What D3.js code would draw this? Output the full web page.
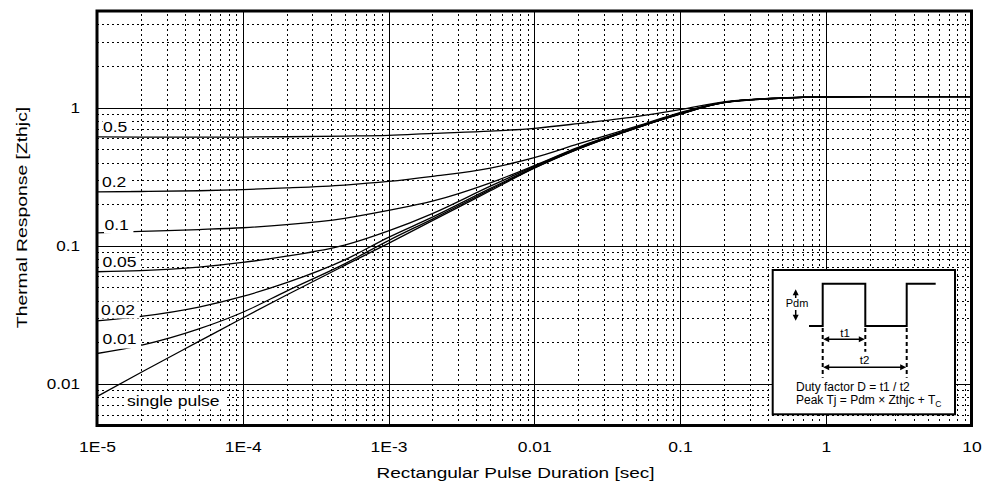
<!DOCTYPE html>
<html><head><meta charset="utf-8">
<script src="https://cdn.jsdelivr.net/npm/d3@7"></script>
<style>
body{margin:0;background:#fff;}
svg text{font-family:"Liberation Sans",Arial,Helvetica,sans-serif;fill:#000;}
</style></head><body>
<svg id="c" width="982" height="485"></svg>
<script>
// ---- data ----
const pulseDurations = [1e-5,2e-5,5e-5,1e-4,2e-4,5e-4,1e-3,2e-3,5e-3,1e-2,2e-2,5e-2,0.1,0.2,0.5,1,2,5,10];
const zSingle = [0.0081,0.0121,0.0203,0.030,0.044,0.072,0.104,0.152,0.250,0.364,0.500,0.710,0.895,1.085,1.170,1.195,1.200,1.200,1.200];
const zD001   = [0.0166,0.0190,0.0250,0.0330,0.047,0.074,0.109,0.156,0.255,0.366,0.502,0.711,0.897,1.086,1.170,1.195,1.200,1.200,1.200];
const zD002   = [0.0286,0.0308,0.0360,0.043,0.054,0.079,0.115,0.161,0.260,0.369,0.505,0.713,0.900,1.087,1.171,1.195,1.200,1.200,1.200];
const zD005   = [0.0648,0.066,0.070,0.0757,0.084,0.101,0.128,0.171,0.270,0.375,0.510,0.716,0.905,1.088,1.171,1.196,1.200,1.200,1.200];
const zD010   = [0.124,0.127,0.131,0.135,0.142,0.158,0.180,0.210,0.285,0.380,0.515,0.720,0.910,1.090,1.172,1.196,1.200,1.200,1.200];
const zD020   = [0.245,0.247,0.250,0.255,0.262,0.275,0.292,0.318,0.365,0.434,0.545,0.730,0.920,1.092,1.173,1.197,1.200,1.200,1.200];
const zD050   = [0.613,0.612,0.611,0.612,0.615,0.622,0.630,0.650,0.675,0.708,0.765,0.860,0.965,1.100,1.175,1.198,1.200,1.200,1.200];
const seriesNames = ["single pulse","0.01","0.02","0.05","0.1","0.2","0.5"];
const seriesValues = [zSingle,zD001,zD002,zD005,zD010,zD020,zD050];
const xTickValues = [1e-5,1e-4,1e-3,1e-2,0.1,1,10];
const xTickLabels = ["1E-5","1E-4","1E-3","0.01","0.1","1","10"];
const yTickValues = [0.01,0.1,1];
const yTickLabels = ["0.01","0.1","1"];
const xTitle = "Rectangular Pulse Duration [sec]";
const yTitle = "Thermal Response [Zthjc]";

// ---- layout ----
const L=97, R=971.5, T=11, B=425.5;
const svg = d3.select("#c");
const x = d3.scaleLog().domain([1e-5,10]).range([L,R]);
const y = d3.scaleLog().domain([0.005,5]).range([B,T]);

function minorTicks(lo,hi){
  const out=[];
  for(let e=Math.floor(Math.log10(lo)); e<=Math.ceil(Math.log10(hi)); e++){
    for(let k=2;k<=9;k++){const v=k*Math.pow(10,e); if(v>=lo*0.999 && v<hi*0.999) out.push(v);}
  }
  return out;
}
const xMinor = minorTicks(1e-5,10);
const yMinor = minorTicks(0.005,5).filter(v=>v>0.0051);
const xMajorInner = xTickValues.slice(1,-1);

// grid
const grid = svg.append("g").attr("shape-rendering","crispEdges");
grid.append("g").attr("transform",`translate(0,${B})`)
  .call(d3.axisBottom(x).tickValues(xMinor).tickSize(-(B-T)).tickFormat(""))
  .call(g=>g.select(".domain").remove())
  .selectAll("line").attr("stroke","#000").attr("stroke-width",1).attr("stroke-dasharray","2,3");
grid.append("g").attr("transform",`translate(${L},0)`)
  .call(d3.axisLeft(y).tickValues(yMinor).tickSize(-(R-L)).tickFormat(""))
  .call(g=>g.select(".domain").remove())
  .selectAll("line").attr("stroke","#000").attr("stroke-width",1).attr("stroke-dasharray","2,3");
grid.append("g").attr("transform",`translate(0,${B})`)
  .call(d3.axisBottom(x).tickValues(xMajorInner).tickSize(-(B-T)).tickFormat(""))
  .call(g=>g.select(".domain").remove())
  .selectAll("line").attr("stroke","#000").attr("stroke-width",1);
grid.append("g").attr("transform",`translate(${L},0)`)
  .call(d3.axisLeft(y).tickValues(yTickValues).tickSize(-(R-L)).tickFormat(""))
  .call(g=>g.select(".domain").remove())
  .selectAll("line").attr("stroke","#000").attr("stroke-width",1);

// curves
svg.append("clipPath").attr("id","pc").append("rect").attr("x",L).attr("y",T).attr("width",R-L).attr("height",B-T);
const line = d3.line().x(d=>x(d[0])).y(d=>y(d[1])).curve(d3.curveMonotoneX);
svg.append("g").attr("clip-path","url(#pc)")
  .selectAll("path").data(seriesValues).join("path")
  .attr("d",vals=>line(pulseDurations.map((t,i)=>[t,vals[i]])))
  .attr("fill","none").attr("stroke","#000").attr("stroke-width",1.3);

// curve labels with white background
const labelSpots = [[127,406],[102.5,344],[101,315],[102.5,266.5],[104.5,230],[102,187],[103,132]];
const kLab = 1.21;
seriesNames.forEach((name,i)=>{
  const g = svg.append("g").attr("transform",`translate(${labelSpots[i][0]},${labelSpots[i][1]}) scale(${kLab},1)`);
  const r = g.append("rect").attr("fill","#fff");
  const t = g.append("text").attr("font-size",14.5).text(name);
  const bb = t.node().getBBox();
  r.attr("x",bb.x-0.5/kLab).attr("y",bb.y).attr("width",bb.width+5/kLab).attr("height",(i===1?4.5:3.5)-bb.y);
});

// border
svg.append("rect").attr("x",L).attr("y",T).attr("width",R-L).attr("height",B-T)
  .attr("fill","none").attr("stroke","#000").attr("stroke-width",3);

// x tick labels
const xa = svg.append("g").attr("transform",`translate(0,${B})`)
  .call(d3.axisBottom(x).tickValues(xTickValues).tickSize(0).tickFormat((d,i)=>xTickLabels[i]));
xa.select(".domain").remove();
xa.selectAll("text").attr("font-size",14).attr("font-family",null).attr("y",0).attr("dy",0)
  .attr("transform","translate(0,26.2) scale(1.25,1)");
// y tick labels
const ya = svg.append("g").attr("transform",`translate(${L},0)`)
  .call(d3.axisLeft(y).tickValues(yTickValues).tickSize(0).tickFormat((d,i)=>yTickLabels[i]));
ya.select(".domain").remove();
ya.selectAll("text").attr("font-size",14).attr("font-family",null).attr("x",0).attr("dy","0.35em")
  .attr("text-anchor","end").attr("transform","translate(-17,0) scale(1.22,1)");

// axis titles
svg.append("text").attr("transform",`translate(515.5,478) scale(1.27,1)`)
  .attr("text-anchor","middle").attr("font-size",15).text(xTitle);
svg.append("text").attr("transform",`translate(27.3,217.5) rotate(-90) scale(1.29,1)`)
  .attr("text-anchor","middle").attr("font-size",15).text(yTitle);

// inset schematic
const bx=772.7, by=270;
const inset = svg.append("g").attr("transform",`translate(${bx},${by})`);
inset.append("rect").attr("x",0).attr("y",0).attr("width",182.3).attr("height",144.3)
  .attr("fill","#fff").attr("stroke","#000").attr("stroke-width",2);
inset.append("path").attr("d",d3.line()([[36.3,56],[50,56],[50,13.7],[92.6,13.7],[92.6,56],[134,56],[134,13.7],[163,13.7]]))
  .attr("fill","none").attr("stroke","#000").attr("stroke-width",2);
// dashed verticals
[[50,58,107.7],[92.6,58,81.7],[134,58,107.7]].forEach(d=>{
  inset.append("line").attr("x1",d[0]).attr("x2",d[0]).attr("y1",d[1]).attr("y2",d[2])
    .attr("stroke","#000").attr("stroke-width",2).attr("stroke-dasharray","4,3");
});
function arrowHead(g,xt,yt,dir){
  const s=6,w=3;
  let pts;
  if(dir==="up") pts=[[xt,yt],[xt-w,yt+s],[xt+w,yt+s]];
  if(dir==="down") pts=[[xt,yt],[xt-w,yt-s],[xt+w,yt-s]];
  if(dir==="left") pts=[[xt,yt],[xt+s,yt-w],[xt+s,yt+w]];
  if(dir==="right") pts=[[xt,yt],[xt-s,yt-w],[xt-s,yt+w]];
  g.append("path").attr("d","M"+pts.map(p=>p.join(",")).join("L")+"Z").attr("fill","#000");
}
// Pdm arrows
inset.append("line").attr("x1",23).attr("x2",23).attr("y1",28).attr("y2",22).attr("stroke","#000").attr("stroke-width",1.5);
arrowHead(inset,23,19.3,"up");
inset.append("line").attr("x1",23).attr("x2",23).attr("y1",40).attr("y2",46).attr("stroke","#000").attr("stroke-width",1.5);
arrowHead(inset,23,50.7,"down");
inset.append("text").attr("x",13).attr("y",37.3).attr("font-size",11).text("Pdm");
// t1 arrow
inset.append("line").attr("x1",53).attr("x2",89.6).attr("y1",69.3).attr("y2",69.3).attr("stroke","#000").attr("stroke-width",1.5);
arrowHead(inset,50.5,69.3,"left"); arrowHead(inset,92.1,69.3,"right");
inset.append("text").attr("x",72.3).attr("y",67.3).attr("text-anchor","middle").attr("font-size",11.5).text("t1");
// t2 arrow
inset.append("line").attr("x1",53).attr("x2",131).attr("y1",97.3).attr("y2",97.3).attr("stroke","#000").attr("stroke-width",1.5);
arrowHead(inset,50.5,97.3,"left"); arrowHead(inset,133.5,97.3,"right");
inset.append("text").attr("x",91.8).attr("y",94).attr("text-anchor","middle").attr("font-size",11.5).text("t2");
// formulas
inset.append("text").attr("x",23.3).attr("y",120.7).attr("font-size",12).text("Duty factor D = t1 / t2");
const f2 = inset.append("text").attr("x",23.3).attr("y",134.3).attr("font-size",12);
f2.append("tspan").text("Peak Tj = Pdm \u00D7 Zthjc + T");
f2.append("tspan").attr("font-size",8.5).attr("dy",3).text("C");
</script>
</body></html>
